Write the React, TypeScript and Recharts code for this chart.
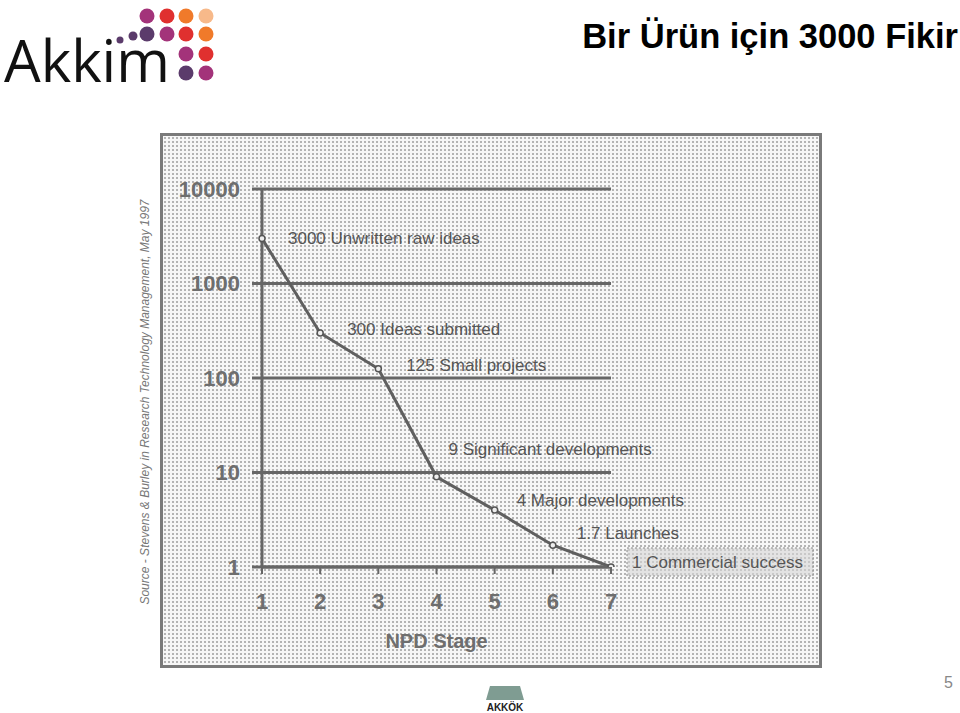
import React from "react";
import { LineChart, Line, XAxis, YAxis, CartesianGrid, LabelList } from "recharts";

// NPD funnel (Stevens & Burley 1997)
const stages = [1, 2, 3, 4, 5, 6, 7];
const ideaCounts = [3000, 300, 125, 9, 4, 1.7, 1];
const stageLabels = [
  "3000 Unwritten raw ideas",
  "300 Ideas submitted",
  "125 Small projects",
  "9 Significant developments",
  "4 Major developments",
  "1.7 Launches",
  "1 Commercial success",
];
const yTicks = [1, 10, 100, 1000, 10000];

const data = stages.map((s, i) => ({ stage: s, count: ideaCounts[i], label: stageLabels[i] }));

// where each annotation sits relative to its point
const labelOffsets: [number, number][] = [
  [26, 0],
  [27, -3],
  [28, -3],
  [12, -27],
  [22, -10],
  [24, -12],
  [21, -5],
];

const INK = "#666";

const StageLabel = (props: any) => {
  const { x, y, value, index } = props;
  const [dx, dy] = labelOffsets[index] || [20, 0];
  const last = index === stages.length - 1;
  return (
    <g>
      {last && (
        <rect
          x={x + 16}
          y={y - 19}
          width={186}
          height={28}
          fill="#d6d6d6"
          fillOpacity={0.6}
          stroke="#888"
          strokeDasharray="2 2"
        />
      )}
      <text
        x={x + dx}
        y={y + dy}
        fill="#555"
        fontSize={17}
        fontFamily="Liberation Sans, Arial, sans-serif"
        dominantBaseline="central"
      >
        {value}
      </text>
    </g>
  );
};

const Marker = (props: any) => {
  const { cx, cy } = props;
  return <circle cx={cx} cy={cy} r={3} fill="#eee" stroke="#555" strokeWidth={1.5} />;
};

const AkkimLogo = () => {
  const dots: [number, number, number, string][] = [
    [147, 16, 7.5, "#a3337a"],
    [167, 16, 7.5, "#e0302f"],
    [186, 16, 7.5, "#f07a2a"],
    [206, 16, 7.5, "#f7b98a"],
    [120, 40, 3.5, "#5b3b6b"],
    [133, 36, 4.5, "#5b3b6b"],
    [147, 34, 7.5, "#5b3b6b"],
    [167, 34, 7.5, "#a3337a"],
    [186, 34, 7.5, "#e0302f"],
    [206, 34, 7.5, "#f07a2a"],
    [186, 54, 7.5, "#a3337a"],
    [206, 54, 7.5, "#e0302f"],
    [186, 73, 7.5, "#5b3b6b"],
    [206, 73, 7.5, "#a3337a"],
  ];
  return (
    <svg width={240} height={110} style={{ position: "absolute", left: 0, top: 0 }}>
      <text x={4} y={82} fontSize={58} fontFamily="Open Sans, Lato, sans-serif" fill="#111">
        Akkim
      </text>
      {dots.map(([cx, cy, r, c], i) => (
        <circle key={i} cx={cx} cy={cy} r={r} fill={c} />
      ))}
    </svg>
  );
};

export default function App() {
  return (
    <div
      style={{
        position: "absolute",
        left: 0,
        top: 0,
        width: 960,
        height: 713,
        background: "#fff",
        overflow: "hidden",
        fontFamily: "Liberation Sans, Arial, sans-serif",
      }}
    >
      <AkkimLogo />
      <div
        style={{
          position: "absolute",
          right: 2,
          top: 13,
          fontSize: 34.5,
          lineHeight: "46px",
          fontWeight: "bold",
          color: "#000",
          whiteSpace: "nowrap",
        }}
      >
        Bir Ürün için 3000 Fikir
      </div>

      <div
        style={{
          position: "absolute",
          left: 145,
          top: 402,
          transform: "translate(-50%, -50%) rotate(-90deg)",
          whiteSpace: "nowrap",
          fontSize: 12,
          fontStyle: "italic",
          color: "#777",
        }}
      >
        Source - Stevens &amp; Burley in Research Technology Management, May 1997
      </div>

      <div
        style={{
          position: "absolute",
          left: 160,
          top: 133,
          width: 662,
          height: 535,
          boxSizing: "border-box",
          border: "3px solid #7a7a7a",
          backgroundColor: "#f7f7f7",
          backgroundImage: "radial-gradient(circle, #b4b4b4 0.9px, transparent 1.3px)",
          backgroundSize: "4px 4px",
        }}
      />

      <div style={{ position: "absolute", left: 160, top: 133 }}>
        <LineChart width={662} height={535} data={data} margin={{ top: 56, right: 211, bottom: 0, left: 0 }}>
          <CartesianGrid vertical={false} stroke={INK} strokeWidth={3} />
          <XAxis
            dataKey="stage"
            type="number"
            domain={[1, 7]}
            ticks={stages}
            height={101}
            axisLine={{ stroke: INK, strokeWidth: 3 }}
            tickLine={{ stroke: INK, strokeWidth: 2 }}
            tickSize={7}
            tickMargin={19}
            tick={{ fill: "#6e6e6e", fontSize: 22, fontWeight: "bold" }}
            label={{
              value: "NPD Stage",
              position: "insideBottom",
              offset: 20,
              fill: "#6e6e6e",
              fontSize: 20,
              fontWeight: "bold",
            }}
          />
          <YAxis
            type="number"
            scale="log"
            domain={[1, 10000]}
            ticks={yTicks}
            width={102}
            axisLine={{ stroke: INK, strokeWidth: 3 }}
            tickLine={{ stroke: INK, strokeWidth: 3 }}
            tickSize={10}
            tickMargin={12}
            tick={{ fill: "#6e6e6e", fontSize: 22, fontWeight: "bold" }}
            allowDataOverflow
          />
          <Line
            type="linear"
            dataKey="count"
            stroke="#5f5f5f"
            strokeWidth={3}
            dot={<Marker />}
            activeDot={false}
            isAnimationActive={false}
          >
            <LabelList dataKey="label" content={<StageLabel />} />
          </Line>
        </LineChart>
      </div>

      <div style={{ position: "absolute", left: 944, top: 674, fontSize: 16, color: "#888" }}>5</div>

      <svg width={60} height={30} style={{ position: "absolute", left: 475, top: 684 }}>
        <polygon points="15,2 45,2 49,16 11,16" fill="#7f9c92" />
        <text x={30} y={27} textAnchor="middle" fontSize={10} fontWeight="bold" fill="#222">
          AKKÖK
        </text>
      </svg>
    </div>
  );
}
